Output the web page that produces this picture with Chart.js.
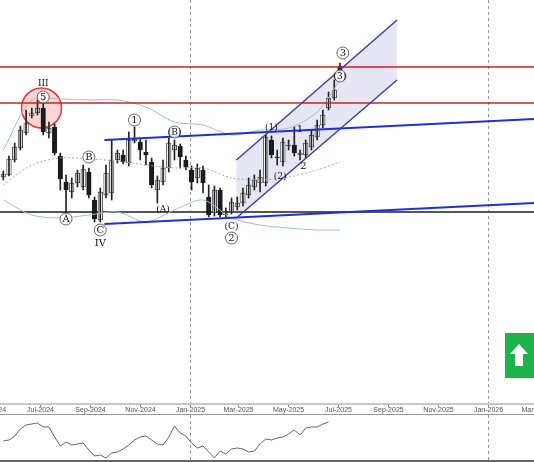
<!DOCTYPE html>
<html>
<head>
<meta charset="utf-8">
<script src="https://cdn.jsdelivr.net/npm/chart.js@4/dist/chart.umd.min.js"></script>
<style>
  html, body { margin: 0; padding: 0; background: #fff; }
  #main { position: absolute; left: 0; top: 0; width: 534px; height: 415px; }
  #osc { position: absolute; left: 0; top: 415px; width: 534px; height: 45px; }
  #foot { position: absolute; left: 0; top: 460px; width: 534px; height: 2px; background: #666; }
</style>
</head>
<body>
<div id="main"><canvas id="mainChart"></canvas></div>
<div id="osc"><canvas id="oscChart"></canvas></div>
<div id="foot"></div>
<script>
// weekly candles, first week starts here
const firstWeek = '2024-05-17';
// price units grow downward (axis reversed)
const opens  = [177,175,160,148,133,116,113,108,133,127,156,182,192,183,187,172,200,220,195,193,160,155,163,141,142,152,162,190,182,168,150,146,160,170,178,170,197,213,190,215,212,207,203,195,187,183,183,140,157,162,146,145,155,155,147,137,125,108,98,66];
const highs  = [171,156,143,126,110,108,100,98,122,124,153,175,178,170,165,168,197,188,165,140,150,150,132,127,138,140,158,176,160,138,140,144,156,166,164,166,185,186,188,208,198,197,188,178,175,170,135,136,150,138,140,127,150,140,130,120,110,92,80,63];
const lows   = [180,176,162,150,135,118,115,135,138,155,190,215,198,187,190,198,222,222,198,200,163,164,166,143,160,165,188,203,185,172,160,168,170,190,183,193,217,216,217,217,214,210,206,198,190,192,186,158,165,166,150,156,160,158,150,140,128,110,100,72];
const closes = [174,159,147,130,123,113,108,132,128,153,179,190,183,173,169,195,219,192,173,160,153,162,140,139,150,155,185,180,168,143,145,157,167,182,168,183,215,190,215,212,202,203,193,185,180,177,137,155,158,142,145,153,153,143,135,125,115,98,90,70];

// bollinger bands sampled every 5 weeks
const bandWeeks  = [0,5,10,15,20,25,30,35,40,45,50,55,59];
const bandUpper  = [150,100,99,100,100,107,122,125,135,130,128,112,80];
const bandMiddle = [185,165,158,159,161,165,168,168,178,180,177,170,162];
const bandLower  = [200,215,218,215,212,222,210,200,218,225,228,230,230];

// oscillator, one value per week
const oscValues = [441,440,436,429,425,424,423,427,427,437,446,442,445,444,443,450,456,455,458,453,452,449,445,440,437,436,440,444,445,437,426,433,436,443,448,446,452,458,451,454,449,448,449,452,451,444,439,440,438,437,434,430,435,428,427,427,424,422];

// month ticks and dashed year lines
const tickMonths = ['2024-05','2024-07','2024-09','2024-11','2025-01','2025-03','2025-05','2025-07','2025-09','2025-11','2026-01','2026-03'];
const monthNames = ['Jan','Feb','Mar','Apr','May','Jun','Jul','Aug','Sep','Oct','Nov','Dec'];
const yearLines = ['2025-01-01','2026-01-01'];

// levels and trend lines: [date1, price1, date2, price2]
const redLevels = [67, 103];
const supportLevel = 212;
const blueLines = [
  ['2024-09-18', 224, '2026-03-01', 203],
  ['2024-09-18', 140, '2026-03-01', 119]
];
const channelUpper = ['2025-02-27', 160, '2025-09-12', 20];
const channelLower = ['2025-02-27', 218, '2025-09-12', 80];

// wave labels: [week, price, text, circled]
const waveLabels = [
  [7, 83, 'III', false], [7, 97, '5', true], [15, 157, 'B', true], [11, 219, 'A', true],
  [17, 230, 'C', true], [17, 243, 'IV', false], [23, 120, '1', true], [30, 132, '(B)', true],
  [28, 209, '(A)', false], [40, 226, '(C)', false], [40, 238, '2', true], [47, 127, '(1)', false],
  [52, 129, '1', false], [52.6, 166, '2', false], [48.5, 176, '(2)', false],
  [59.5, 53, '3', true], [59, 76, '(3)', true]
];

const DAY = 864e5;
const dayOf = s => Date.parse(s.length === 7 ? s + '-01' : s) / DAY;
const weekDay = i => dayOf(firstWeek) + 7 * i;

const wicks = opens.map((o, i) => ({ x: weekDay(i), y: [lows[i], highs[i]] }));
const bodies = opens.map((o, i) => ({ x: weekDay(i), y: [o, o === closes[i] ? o + 0.8 : closes[i]] }));
const bodyColors = opens.map((o, i) => closes[i] < o ? '#ffffff' : '#111111');

const monthLabel = v => {
  const d = new Date(v * DAY);
  return monthNames[d.getUTCMonth()] + '-' + d.getUTCFullYear();
};

const overlay = {
  id: 'overlay',
  beforeDatasetsDraw(chart) {
    const { ctx, chartArea: a, scales: { x, y } } = chart;
    ctx.save();
    ctx.beginPath(); ctx.rect(a.left, a.top, a.width, a.height); ctx.clip();
    // shaded channel
    const p = (d, v) => [x.getPixelForValue(dayOf(d)), y.getPixelForValue(v)];
    const u1 = p(channelUpper[0], channelUpper[1]), u2 = p(channelUpper[2], channelUpper[3]);
    const l1 = p(channelLower[0], channelLower[1]), l2 = p(channelLower[2], channelLower[3]);
    ctx.fillStyle = 'rgba(200,200,230,0.45)';
    ctx.beginPath(); ctx.moveTo(...u1); ctx.lineTo(...u2); ctx.lineTo(...l2); ctx.lineTo(...l1); ctx.closePath(); ctx.fill();
    // year dashes
    ctx.strokeStyle = '#999'; ctx.lineWidth = 1; ctx.setLineDash([3, 3]);
    yearLines.forEach(d => {
      const px = Math.round(x.getPixelForValue(dayOf(d))) + 0.5;
      ctx.beginPath(); ctx.moveTo(px, a.top); ctx.lineTo(px, a.bottom); ctx.stroke();
    });
    ctx.setLineDash([]);
    // support
    ctx.strokeStyle = '#555'; ctx.lineWidth = 2;
    let py = y.getPixelForValue(supportLevel);
    ctx.beginPath(); ctx.moveTo(a.left, py); ctx.lineTo(a.right, py); ctx.stroke();
    // red circle around the top
    const cx = x.getPixelForValue(weekDay(6.7)), cy = y.getPixelForValue(108);
    ctx.fillStyle = 'rgba(255,90,90,0.25)'; ctx.strokeStyle = '#e33'; ctx.lineWidth = 1.5;
    ctx.beginPath(); ctx.arc(cx, cy, 20, 0, Math.PI * 2); ctx.fill(); ctx.stroke();
    ctx.restore();
  },
  afterDatasetsDraw(chart) {
    const { ctx, chartArea: a, scales: { x, y } } = chart;
    ctx.save();
    ctx.beginPath(); ctx.rect(a.left, a.top, a.width, a.height); ctx.clip();
    ctx.strokeStyle = '#e01b1b'; ctx.lineWidth = 1.5;
    redLevels.forEach(v => {
      const py = y.getPixelForValue(v);
      ctx.beginPath(); ctx.moveTo(a.left, py); ctx.lineTo(a.right, py); ctx.stroke();
    });
    const seg = (l, color, w) => {
      ctx.strokeStyle = color; ctx.lineWidth = w;
      ctx.beginPath();
      ctx.moveTo(x.getPixelForValue(dayOf(l[0])), y.getPixelForValue(l[1]));
      ctx.lineTo(x.getPixelForValue(dayOf(l[2])), y.getPixelForValue(l[3]));
      ctx.stroke();
    };
    blueLines.forEach(l => seg(l, '#1f2fe0', 2));
    seg(channelUpper, '#3b3fa8', 1.5);
    seg(channelLower, '#3b3fa8', 1.5);
    // labels
    ctx.textAlign = 'center'; ctx.textBaseline = 'middle';
    waveLabels.forEach(([w, v, t, circ]) => {
      const px = x.getPixelForValue(weekDay(w)), py = y.getPixelForValue(v);
      if (circ) {
        ctx.fillStyle = 'rgba(255,255,255,0.8)'; ctx.strokeStyle = '#444'; ctx.lineWidth = 0.8;
        ctx.beginPath(); ctx.arc(px, py, 6, 0, Math.PI * 2); ctx.fill(); ctx.stroke();
      }
      ctx.fillStyle = '#111';
      ctx.font = (t.length > 2 ? '9px' : '10px') + ' "DejaVu Serif", serif';
      ctx.fillText(t, px, py + 0.5);
    });
    // green signal box
    ctx.fillStyle = '#1fb34b';
    ctx.fillRect(505, 333, 29, 45);
    ctx.fillStyle = '#fff';
    ctx.beginPath();
    ctx.moveTo(519, 344); ctx.lineTo(528, 354); ctx.lineTo(523, 354); ctx.lineTo(523, 366);
    ctx.lineTo(515, 366); ctx.lineTo(515, 354); ctx.lineTo(510, 354); ctx.closePath(); ctx.fill();
    ctx.restore();
  },
  afterDraw(chart) {
    // time axis band: labels may run off the canvas edge like the original
    const { ctx, chartArea: a, scales: { x } } = chart;
    ctx.save();
    ctx.fillStyle = '#c8c8c8'; ctx.fillRect(0, a.bottom, chart.width, 2);
    ctx.fillStyle = '#999'; ctx.fillRect(0, chart.height - 1, chart.width, 1);
    ctx.strokeStyle = '#888'; ctx.lineWidth = 1;
    ctx.fillStyle = '#555'; ctx.font = '7px "Liberation Sans", sans-serif';
    ctx.textAlign = 'center'; ctx.textBaseline = 'top';
    tickMonths.forEach(m => {
      const px = Math.round(x.getPixelForValue(dayOf(m))) + 0.5;
      ctx.beginPath(); ctx.moveTo(px, a.bottom + 2); ctx.lineTo(px, a.bottom + 4); ctx.stroke();
      ctx.fillText(monthLabel(dayOf(m)), px, a.bottom + 4);
    });
    ctx.restore();
  }
};

const xMin = dayOf('2024-05-13'), xMax = dayOf('2026-02-27');

new Chart(document.getElementById('mainChart'), {
  type: 'bar',
  data: {
    datasets: [
      { type: 'line', data: bandWeeks.map((w, i) => ({ x: weekDay(w), y: bandUpper[i] })), borderColor: '#9cc3c6', borderWidth: 1, pointRadius: 0, tension: 0.3 },
      { type: 'line', data: bandWeeks.map((w, i) => ({ x: weekDay(w), y: bandLower[i] })), borderColor: '#9cc3c6', borderWidth: 1, pointRadius: 0, tension: 0.3 },
      { type: 'line', data: bandWeeks.map((w, i) => ({ x: weekDay(w), y: bandMiddle[i] })), borderColor: '#aaa', borderWidth: 1, borderDash: [2, 2], pointRadius: 0, tension: 0.3 },
      { data: wicks, backgroundColor: '#222', barThickness: 1, grouped: false },
      { data: bodies, backgroundColor: bodyColors, borderColor: '#222', borderWidth: 0.8, borderSkipped: false, barThickness: 4.5, grouped: false }
    ]
  },
  options: {
    responsive: true,
    maintainAspectRatio: false,
    animation: false,
    layout: { padding: { left: 0, right: 0, top: 0, bottom: 12 } },
    plugins: { legend: { display: false }, tooltip: { enabled: false } },
    scales: {
      x: { type: 'linear', display: false, min: xMin, max: xMax, offset: false },
      y: { display: false, reverse: true, min: 0, max: 403 }
    }
  },
  plugins: [overlay]
});

const oscDash = {
  id: 'oscDash',
  beforeDatasetsDraw(chart) {
    const { ctx, chartArea: a, scales: { x } } = chart;
    ctx.save(); ctx.strokeStyle = '#999'; ctx.setLineDash([3, 3]); ctx.lineWidth = 1;
    yearLines.forEach(d => {
      const px = Math.round(x.getPixelForValue(dayOf(d))) + 0.5;
      ctx.beginPath(); ctx.moveTo(px, 0); ctx.lineTo(px, a.bottom); ctx.stroke();
    });
    ctx.restore();
  }
};

new Chart(document.getElementById('oscChart'), {
  type: 'line',
  data: {
    datasets: [{ data: oscValues.map((v, i) => ({ x: weekDay(i), y: v })), borderColor: '#666', borderWidth: 1, pointRadius: 0 }]
  },
  options: {
    responsive: true,
    maintainAspectRatio: false,
    animation: false,
    layout: { padding: 0 },
    plugins: { legend: { display: false }, tooltip: { enabled: false } },
    scales: {
      x: { type: 'linear', display: false, min: xMin, max: xMax },
      y: { display: false, reverse: true, min: 415, max: 460 }
    }
  },
  plugins: [oscDash]
});
</script>
</body>
</html>
